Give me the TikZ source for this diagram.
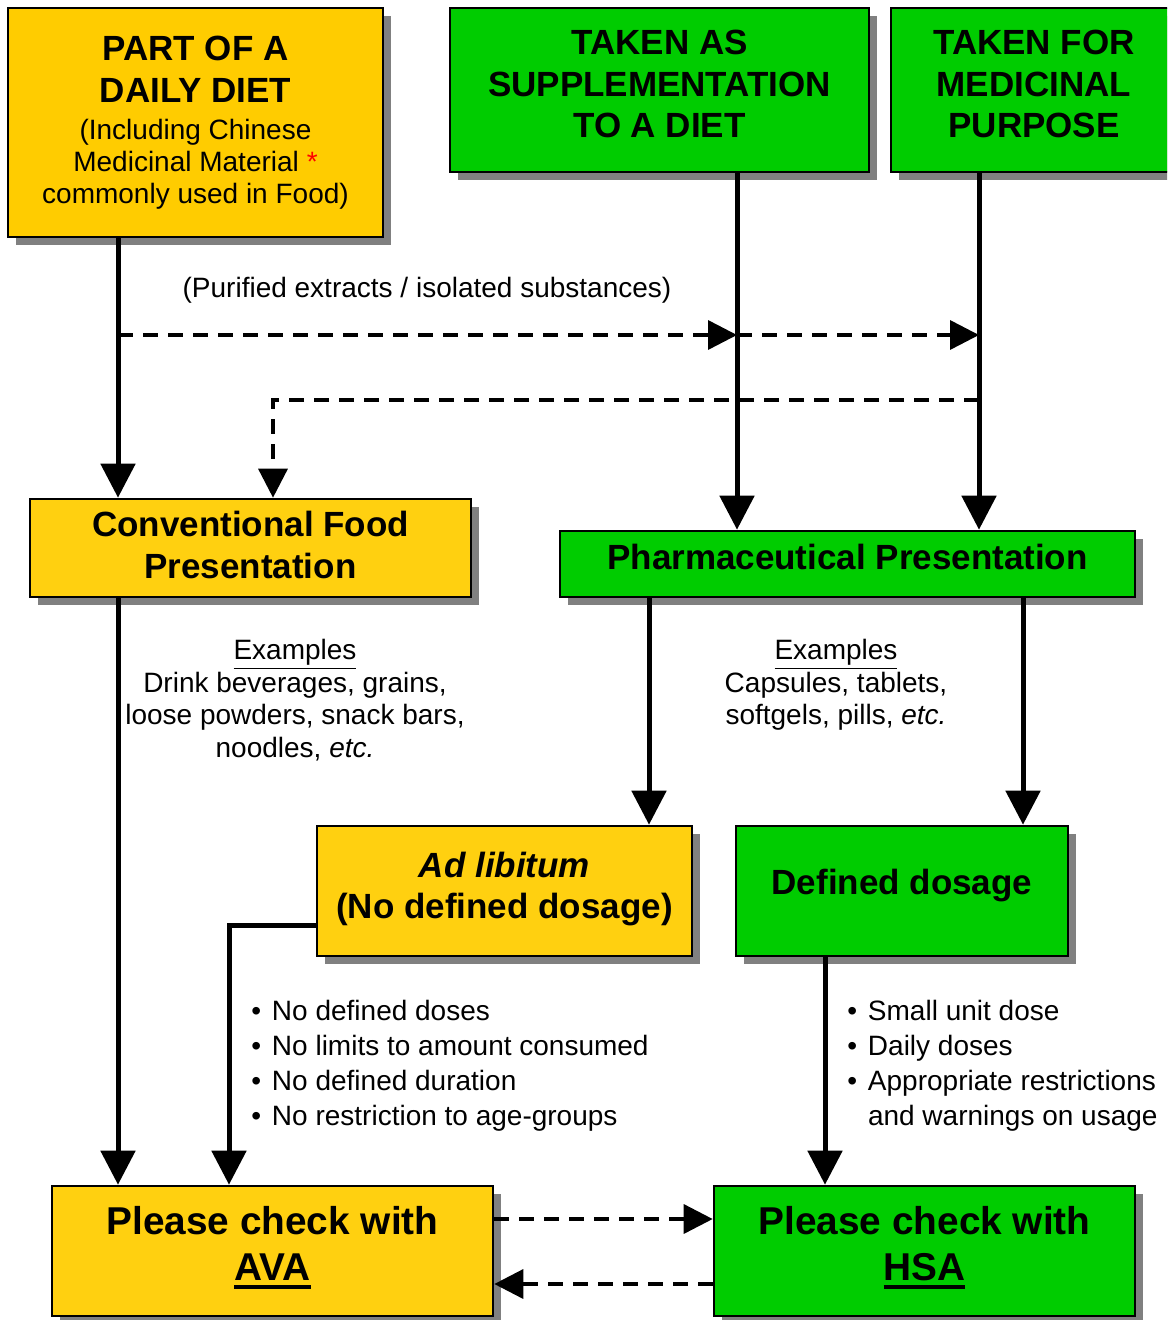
\documentclass[tikz,border=0pt]{standalone}
\usepackage{fontspec}
\setmainfont{Liberation Sans}
\definecolor{DietGold}  {RGB}{255,204,0}
\definecolor{FoodGold}  {RGB}{255,208,16}
\definecolor{DrugGreen} {RGB}{0,204,0}
\definecolor{ShadowGrey}{RGB}{128,128,128}
\usetikzlibrary{arrows.meta,shadows}
\newcommand{\heavyul}[1]{\setbox0=\hbox{#1}\rlap{\rule[-4.5pt]{\wd0}{2pt}}\box0}
\newcommand{\itembul}{\textbullet\hspace{5.4pt}}

\begin{document}
\begin{tikzpicture}[x=0.5pt,y=-0.5pt,
  box/.style={draw,line width=1.3pt,align=center,inner sep=0pt,
    drop shadow={shadow xshift=4pt,shadow yshift=-4pt,fill=ShadowGrey,opacity=1}},
  foodbox/.style={box,fill=FoodGold},
  drugbox/.style={box,fill=DrugGreen},
  headtxt/.style={font=\bfseries\fontsize{17.5}{20.75}\selectfont},
  bigtxt/.style={font=\bfseries\fontsize{19.4}{23}\selectfont},
  bodytxt/.style={font=\fontsize{14}{16.3}\selectfont},
  pointtxt/.style={font=\fontsize{14}{17.5}\selectfont,align=left,anchor=west,inner sep=0pt},
  flow/.style={line width=2.5pt,-{Triangle[length=17pt,width=17pt]}},
  dflow/.style={line width=1.75pt,dash pattern=on 7.5pt off 5pt,
    -{Triangle[length=14.5pt,width=14.5pt]}}]
  % Page: 1167 x 1320 (units of half a point)
  \useasboundingbox (0,0) rectangle (1167,1320);
  \clip (0,0) rectangle (1167,1320);
  % Top row
  \node[foodbox,fill=DietGold,minimum width=187.5pt,minimum height=114.5pt,
        font=\fontsize{14}{16}\selectfont] (diet) at (195.5,122.5)
       {{\bfseries\fontsize{17.5}{20.75}\selectfont PART OF A}\\[5pt]
        {\bfseries\fontsize{17.5}{20.75}\selectfont DAILY DIET}\\[2.5pt]
        (Including Chinese\\Medicinal Material {\color{red}*}\\commonly used in Food)};
  \node[drugbox,headtxt,minimum width=209.5pt,minimum height=82pt,text depth=6pt]
       (supp) at (659.5,90) {TAKEN AS\\SUPPLEMENTATION\\TO A DIET};
  \node[drugbox,headtxt,minimum width=143pt,minimum height=82pt,text depth=6pt]
       (med) at (1034,90) {TAKEN FOR\\MEDICINAL\\PURPOSE};
  % Presentation row
  \node[foodbox,headtxt,minimum width=220.5pt,minimum height=49pt,text depth=3pt]
       (food) at (250.5,548) {Conventional Food\\Presentation};
  \node[drugbox,headtxt,minimum width=287.5pt,minimum height=33pt,text depth=7pt]
       (pharma) at (847.5,564) {Pharmaceutical Presentation};
  % Dosage row
  \node[foodbox,headtxt,minimum width=187.5pt,minimum height=65pt,text depth=5.7pt]
       (adlib) at (504.5,891) {\textit{Ad libitum}\\(No defined dosage)};
  \node[drugbox,headtxt,minimum width=166pt,minimum height=65pt,text depth=8.7pt]
       (dose) at (902,891) {Defined dosage};
  % Agencies
  \node[foodbox,bigtxt,minimum width=220.5pt,minimum height=65pt,text depth=8pt]
       (ava) at (272.5,1251) {Please check with\\\heavyul{AVA}};
  \node[drugbox,bigtxt,minimum width=210.5pt,minimum height=65pt,text depth=8pt]
       (hsa) at (924.5,1251) {Please check with\\\heavyul{HSA}};
  % Free texts
  \node[bodytxt] (purified) at (427,290) {(Purified extracts / isolated substances)};
  \node[bodytxt,align=center] (foodeg) at (295,700)
       {\underline{Examples}\\Drink beverages, grains,\\loose powders, snack bars,\\noodles, \textit{etc.}};
  \node[bodytxt,align=center] (drugeg) at (836,685)
       {\underline{Examples}\\Capsules, tablets,\\softgels, pills, \textit{etc.}};
  \node[pointtxt] (foodpts) at (251,1066)
       {\itembul No defined doses\\\itembul No limits to amount consumed\\
        \itembul No defined duration\\\itembul No restriction to age-groups};
  \node[pointtxt] (drugpts) at (847,1066)
       {\itembul Small unit dose\\\itembul Daily doses\\
        \itembul Appropriate restrictions\\\phantom{\itembul}and warnings on usage};
  % Columns and rows of the connectors
  \coordinate (xdiet) at (118,0);
  \coordinate (xback) at (273,0);
  \coordinate (xava)  at (229,0);
  \coordinate (xlib)  at (649,0);
  \coordinate (xsupp) at (737,0);
  \coordinate (xhsa)  at (825,0);
  \coordinate (xmed)  at (979,0);
  \coordinate (xdose) at (1023,0);
  \coordinate (yext)  at (0,335);
  \coordinate (yback) at (0,400);
  \coordinate (ylib)  at (0,925);
  \coordinate (yto)   at (0,1219);
  \coordinate (yfro)  at (0,1284);
  % Solid flows
  \draw[flow] (diet.south -| xdiet) -- (food.north -| xdiet);
  \draw[flow] (supp.south -| xsupp) -- (pharma.north -| xsupp);
  \draw[flow] (med.south -| xmed) -- (pharma.north -| xmed);
  \draw[flow] (food.south -| xdiet) -- (ava.north -| xdiet);
  \draw[flow] (pharma.south -| xlib) -- (adlib.north -| xlib);
  \draw[flow] (pharma.south -| xdose) -- (dose.north -| xdose);
  \draw[flow] (adlib.west |- ylib) -| (ava.north -| xava);
  \draw[flow] (dose.south -| xhsa) -- (hsa.north -| xhsa);
  % Dashed flows
  \draw[dflow] (xdiet |- yext) -- (xsupp |- yext);
  \draw[dflow] (xsupp |- yext) -- (xmed |- yext);
  \draw[dflow] (xmed |- yback) -| (food.north -| xback);
  \draw[dflow] (ava.east |- yto) -- (hsa.west |- yto);
  \draw[dflow] (hsa.west |- yfro) -- (ava.east |- yfro);
\end{tikzpicture}
\end{document}
